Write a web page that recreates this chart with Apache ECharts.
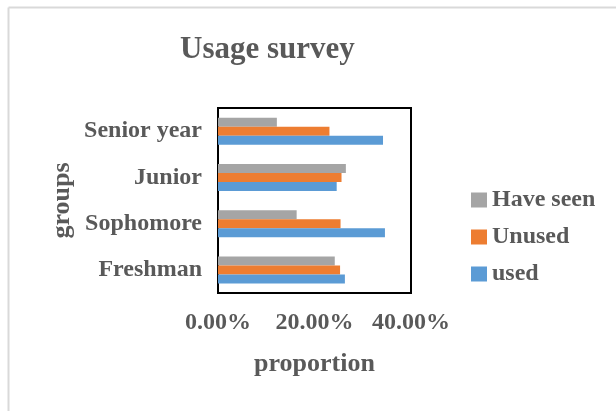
<!DOCTYPE html>
<html>
<head>
<meta charset="utf-8">
<script src="https://cdn.jsdelivr.net/npm/echarts@6/dist/echarts.min.js"></script>
<style>html,body{margin:0;padding:0;background:#fff}#c{width:616px;height:411px}</style>
</head>
<body>
<div id="c"></div>
<script>
var categories = ['Freshman', 'Sophomore', 'Junior', 'Senior year'];
var usedValues = [0.263, 0.346, 0.246, 0.342];
var unusedValues = [0.253, 0.254, 0.256, 0.231];
var haveSeenValues = [0.242, 0.163, 0.265, 0.122];
var xTicks = [0, 0.2, 0.4];
var legendOrder = ['Have seen', 'Unused', 'used'];

var FONT = "'Liberation Serif', 'Times New Roman', serif";
var TXT = '#595959';
var chart = echarts.init(document.getElementById('c'), null, {renderer: 'canvas'});
chart.setOption({
  animation: false,
  backgroundColor: '#fff',
  title: {
    text: 'Usage survey',
    left: 180, top: 34, padding: 0,
    textStyle: {fontFamily: FONT, fontWeight: 'bold', fontSize: 31, color: TXT}
  },
  graphic: [
    {type: 'line', shape: {x1: 8.5, y1: 7.5, x2: 616, y2: 7.5}, style: {stroke: '#d9d9d9', lineWidth: 2}},
    {type: 'line', shape: {x1: 8.5, y1: 7.5, x2: 8.5, y2: 411}, style: {stroke: '#d9d9d9', lineWidth: 2}}
  ],
  legend: {
    orient: 'vertical',
    left: 471, top: 188, padding: 0,
    itemWidth: 16, itemHeight: 15, itemGap: 13,
    icon: 'rect',
    data: legendOrder,
    textStyle: {fontFamily: FONT, fontWeight: 'bold', fontSize: 24, color: TXT}
  },
  grid: {
    show: true, left: 218, right: 205, top: 108, height: 185,
    borderColor: '#000', borderWidth: 2, containLabel: false
  },
  xAxis: {
    type: 'value', min: xTicks[0], max: xTicks[xTicks.length - 1], interval: 0.2,
    name: 'proportion', nameLocation: 'middle', nameGap: 58,
    nameTextStyle: {fontFamily: FONT, fontWeight: 'bold', fontSize: 26, color: TXT},
    axisLine: {show: false}, axisTick: {show: false}, splitLine: {show: false},
    axisLabel: {
      margin: 18, fontFamily: FONT, fontWeight: 'bold', fontSize: 24, color: TXT,
      formatter: function (v) { return (v * 100).toFixed(2) + '%'; }
    }
  },
  yAxis: {
    type: 'category', data: categories,
    name: 'groups', nameLocation: 'middle', nameGap: 143, nameRotate: 90,
    nameTextStyle: {fontFamily: FONT, fontWeight: 'bold', fontSize: 26, color: TXT},
    axisLine: {show: false}, axisTick: {show: false}, splitLine: {show: false},
    axisLabel: {margin: 16, fontFamily: FONT, fontWeight: 'bold', fontSize: 24, color: TXT}
  },
  series: [
    {name: 'Have seen', type: 'bar', data: haveSeenValues, barWidth: 9, barGap: '0%', itemStyle: {color: '#A5A5A5'}},
    {name: 'Unused', type: 'bar', data: unusedValues, barWidth: 9, barGap: '0%', itemStyle: {color: '#ED7D31'}},
    {name: 'used', type: 'bar', data: usedValues, barWidth: 9, barGap: '0%', itemStyle: {color: '#5B9BD5'}}
  ]
});
</script>
</body>
</html>
